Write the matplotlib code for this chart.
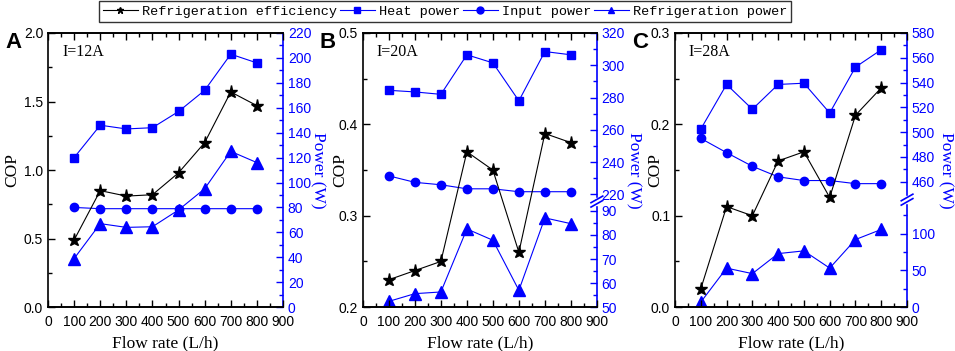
import numpy as np
import matplotlib
matplotlib.use("Agg")
import matplotlib.pyplot as plt
from matplotlib.ticker import FixedLocator, MultipleLocator

flow = [100, 200, 300, 400, 500, 600, 700, 800]

# panel A, I=12A
cop_a = [0.49, 0.85, 0.81, 0.82, 0.98, 1.20, 1.57, 1.47]
heat_a = [120, 146, 143, 144, 157, 174, 203, 196]
input_a = [80, 79, 79, 79, 79, 79, 79, 79]
refr_a = [39, 67, 64, 64.5, 78, 95, 125, 116]

# panel B, I=20A
cop_b = [0.23, 0.24, 0.25, 0.37, 0.35, 0.26, 0.39, 0.38]
heat_b = [284.5, 283.5, 282, 306.5, 301.5, 278, 308.5, 306.5]
input_b = [231.5, 227.5, 226, 223.5, 223.5, 221.7, 221.7, 221.7]
refr_b = [52.4, 55.6, 56.3, 82.5, 77.8, 57, 87.1, 84.7]

# panel C, I=28A
cop_c = [0.02, 0.11, 0.10, 0.16, 0.17, 0.12, 0.21, 0.24]
heat_c = [502.5, 538.5, 518.5, 538.5, 539.5, 515.5, 552.5, 566.5]
input_c = [495, 483.5, 472.5, 464, 461, 461, 458.5, 458.5]
refr_c = [6.8, 53, 45.5, 72.7, 76.4, 53, 91.8, 105.5]

labels = ["Refrigeration efficiency", "Heat power", "Input power", "Refrigeration power"]

SERIF = "Liberation Serif"
SANS = "Liberation Sans"
plt.rcParams["font.family"] = SANS


def piecewise(xp, fp):
    xp = np.asarray(xp, float)
    fp = np.asarray(fp, float)

    def fwd(y):
        y = np.asarray(y, float)
        out = np.interp(y, xp, fp)
        out = np.where(y < xp[0], fp[0] + (y - xp[0]) * (fp[1] - fp[0]) / (xp[1] - xp[0]), out)
        out = np.where(y > xp[-1], fp[-1] + (y - xp[-1]) * (fp[-1] - fp[-2]) / (xp[-1] - xp[-2]), out)
        return out

    def inv(v):
        v = np.asarray(v, float)
        out = np.interp(v, fp, xp)
        out = np.where(v < fp[0], xp[0] + (v - fp[0]) * (xp[1] - xp[0]) / (fp[1] - fp[0]), out)
        out = np.where(v > fp[-1], xp[-1] + (v - fp[-1]) * (xp[-1] - xp[-2]) / (fp[-1] - fp[-2]), out)
        return out

    return fwd, inv


def panel(rect, letter, current, cop, heat, inp, refr, cop_lim, cop_step,
          pw_lim, pw_major, pw_minor, cop_x, pw_x, brk=None, brk_pos=None):
    ax = fig.add_axes(rect)
    ax2 = ax.twinx()
    l1, = ax.plot(flow, cop, color="black", lw=0.8, marker="*", ms=9.5, zorder=5)
    l2, = ax2.plot(flow, heat, color="blue", lw=0.8, marker="s", ms=6)
    l3, = ax2.plot(flow, inp, color="blue", lw=0.8, marker="o", ms=6)
    l4, = ax2.plot(flow, refr, color="blue", lw=0.8, marker="^", ms=8)
    ax.set_zorder(ax2.get_zorder() + 1)
    ax.patch.set_visible(False)

    ax.set_xlim(0, 900)
    ax.xaxis.set_major_locator(MultipleLocator(100))
    ax.xaxis.set_minor_locator(MultipleLocator(50))
    ax.set_ylim(*cop_lim)
    ax.yaxis.set_major_locator(MultipleLocator(cop_step))
    ax.yaxis.set_minor_locator(MultipleLocator(cop_step / 2))
    ax.tick_params(which="both", direction="in", top=True, right=False, labelsize=10)
    ax.tick_params(which="major", length=5, width=1)
    ax.tick_params(which="minor", length=3, width=1)
    ax.tick_params(axis="x", pad=6)
    for s in ax.spines.values():
        s.set_linewidth(1.2)
    ax.spines["right"].set_visible(False)
    ax.set_xlabel("Flow rate (L/h)", family=SERIF, fontsize=12.5, labelpad=4)
    ax.set_ylabel("COP", family=SERIF, fontsize=12.5)
    ax.yaxis.set_label_coords(cop_x, 0.5)

    if brk is not None:
        fwd, inv = piecewise(*brk)
        ax2.set_yscale("function", functions=(fwd, inv))
    ax2.set_ylim(*pw_lim)
    ax2.yaxis.set_major_locator(FixedLocator(pw_major))
    ax2.yaxis.set_minor_locator(FixedLocator(pw_minor))
    ax2.tick_params(which="both", direction="in", colors="blue", labelsize=10)
    ax2.tick_params(which="major", length=5, width=1)
    ax2.tick_params(which="minor", length=3, width=1)
    for s in ax2.spines.values():
        s.set_linewidth(1.2)
    ax2.spines["right"].set_color("blue")
    ax2.spines["left"].set_visible(False)
    ax2.set_ylabel("Power (W)", family=SERIF, fontsize=12.5, color="blue", rotation=270)
    ax2.yaxis.set_label_coords(pw_x, 0.5)

    if brk_pos is not None:
        ax2.add_patch(plt.Rectangle((0.985, brk_pos - 0.012), 0.03, 0.024,
                                    transform=ax2.transAxes, color="white",
                                    clip_on=False, zorder=10))
        for dy in (-0.008, 0.008):
            ax2.plot([0.975, 1.025], [brk_pos + dy - 0.012, brk_pos + dy + 0.012],
                     transform=ax2.transAxes, color="blue", lw=1.2,
                     clip_on=False, zorder=11)

    ax.text(0.06, 0.93, current, transform=ax.transAxes, family=SERIF,
            fontsize=11.5, va="center")
    fig.text(rect[0] - 0.045, rect[1] + rect[3] + 0.003, letter, fontsize=16,
             fontweight="bold", va="top", ha="left")
    return [l1, l2, l3, l4]


fig = plt.figure(figsize=(9.55, 3.51), dpi=100)

handles = panel([0.0503, 0.125, 0.246, 0.781], "A", "I=12A", cop_a, heat_a, input_a,
                refr_a, (0, 2.0), 0.5, (0, 220), np.arange(0, 221, 20),
                np.arange(10, 220, 20), -0.119, 1.18)

panel([0.380, 0.125, 0.245, 0.781], "B", "I=20A", cop_b, heat_b, input_b, refr_b,
      (0.2, 0.5), 0.1, (50, 320),
      [50, 60, 70, 80, 90, 220, 240, 260, 280, 300, 320],
      [55, 65, 75, 85, 230, 250, 270, 290, 310], -0.064, 1.19,
      brk=([50, 90, 220, 320], [0, 0.351, 0.411, 1.0]), brk_pos=0.385)

panel([0.7068, 0.125, 0.243, 0.781], "C", "I=28A", cop_c, heat_c, input_c, refr_c,
      (0, 0.3), 0.1, (0, 580),
      [0, 50, 100, 460, 480, 500, 520, 540, 560, 580],
      [25, 75, 125, 470, 490, 510, 530, 550, 570], -0.052, 1.2,
      brk=([0, 140, 450, 580], [0, 0.376, 0.412, 1.0]), brk_pos=0.392)

leg = fig.legend(handles, labels, loc="upper center", bbox_to_anchor=(0.466, 1.0),
                 ncol=4, prop={"family": "Liberation Mono", "size": 9.7},
                 frameon=True, fancybox=False, edgecolor="black",
                 handlelength=2.6, handletextpad=0.3, columnspacing=0.2,
                 borderpad=0.3, borderaxespad=0.1)
leg.get_frame().set_linewidth(1.0)
for h in leg.legend_handles:
    h.set_markersize(5)

fig.savefig("out.png", dpi=100)
